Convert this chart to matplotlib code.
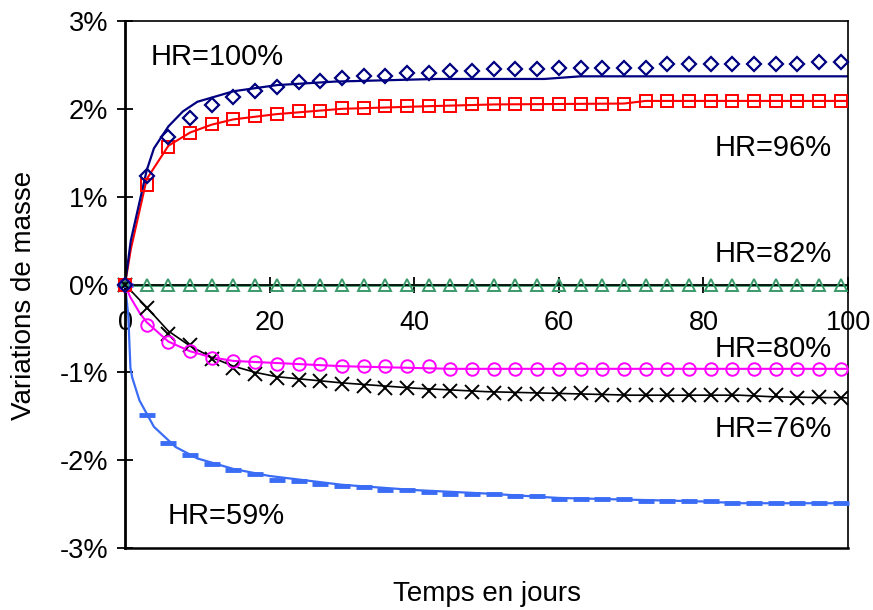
import matplotlib
matplotlib.use("Agg")
import matplotlib.pyplot as plt
from matplotlib.ticker import FuncFormatter

plt.rcParams["font.family"] = ["Liberation Sans", "DejaVu Sans"]

# measured points, every 3 days
days = [0, 3, 6, 9, 12, 15, 18, 21, 24, 27, 30, 33, 36, 39, 42, 45, 48, 51,
        54, 57, 60, 63, 66, 69, 72, 75, 78, 81, 84, 87, 90, 93, 96, 99]

hr100 = [0, 1.24, 1.68, 1.90, 2.04, 2.13, 2.20, 2.25, 2.30, 2.32, 2.35, 2.37,
         2.37, 2.41, 2.41, 2.43, 2.43, 2.45,
         2.45, 2.45, 2.47, 2.47, 2.47, 2.46, 2.46, 2.51, 2.51, 2.51, 2.51, 2.51,
         2.51, 2.51, 2.53, 2.53]
hr96 = [0, 1.13, 1.56, 1.73, 1.83, 1.88, 1.92, 1.94, 1.97, 1.98, 2.01, 2.01,
        2.03, 2.03, 2.03, 2.03, 2.05, 2.05,
        2.06, 2.06, 2.06, 2.06, 2.06, 2.06, 2.09, 2.09, 2.09, 2.09, 2.09, 2.09,
        2.09, 2.09, 2.09, 2.09]
hr82 = [0] * 34
hr80 = [0, -0.46, -0.66, -0.76, -0.84, -0.87, -0.88, -0.90, -0.91, -0.91, -0.93,
        -0.93, -0.93, -0.93, -0.93, -0.96, -0.96, -0.96,
        -0.96, -0.96, -0.96, -0.96, -0.96, -0.96, -0.96, -0.96, -0.96, -0.96,
        -0.96, -0.96, -0.96, -0.96, -0.96, -0.96]
hr76 = [0, -0.27, -0.56, -0.69, -0.85, -0.95, -1.02, -1.07, -1.09, -1.10, -1.13,
        -1.15, -1.18, -1.18, -1.21, -1.21, -1.22, -1.23,
        -1.25, -1.25, -1.25, -1.24, -1.26, -1.26, -1.26, -1.26, -1.26, -1.26,
        -1.26, -1.26, -1.26, -1.29, -1.28, -1.29]
hr59 = [0, -1.49, -1.80, -1.94, -2.04, -2.11, -2.16, -2.22, -2.24, -2.27, -2.29,
        -2.31, -2.34, -2.34, -2.36, -2.38, -2.38, -2.38,
        -2.41, -2.41, -2.44, -2.44, -2.44, -2.44, -2.47, -2.47, -2.47, -2.47,
        -2.49, -2.49, -2.49, -2.49, -2.49, -2.49]

# model curves
m100_t = [0, 0.8, 3, 4, 6, 8, 10, 15, 21, 29, 43, 58, 63, 100]
m100_v = [0, 0.5, 1.3, 1.55, 1.80, 1.97, 2.08, 2.20, 2.27, 2.31, 2.34, 2.34, 2.37, 2.37]
m96_t = [0, 0.8, 3, 6, 9, 12, 15, 21, 30, 42, 51, 69, 72, 100]
m96_v = [0, 0.4, 1.2, 1.58, 1.73, 1.82, 1.88, 1.94, 2.0, 2.03, 2.05, 2.06, 2.09, 2.09]
m82_t = [0, 100]
m82_v = [0, 0]
m80_t = [0, 0.7, 2, 3, 6, 9, 12, 15, 20, 30, 45, 100]
m80_v = [0, -0.14, -0.32, -0.43, -0.65, -0.76, -0.83, -0.87, -0.89, -0.93, -0.96, -0.96]
m76_t = [0, 3, 6, 9, 12, 15, 18, 21, 30, 40, 50, 60, 70, 85, 90, 100]
m76_v = [0, -0.26, -0.53, -0.70, -0.83, -0.93, -1.00, -1.05, -1.12, -1.18, -1.22,
         -1.24, -1.26, -1.26, -1.28, -1.29]
m59_t = [0, 0.45, 0.75, 1, 2, 4, 7, 10, 15, 20, 30, 40, 50, 60, 70, 80, 85, 100]
m59_v = [0, -0.35, -0.95, -1.06, -1.32, -1.62, -1.85, -1.98, -2.10, -2.18, -2.28,
         -2.34, -2.38, -2.43, -2.45, -2.47, -2.49, -2.49]

labels = ["HR=100%", "HR=96%", "HR=82%", "HR=80%", "HR=76%", "HR=59%"]
label_pos = [(3.5, 2.585), (81.6, 1.55), (81.6, 0.35), (81.6, -0.73),
             (81.6, -1.64), (5.9, -2.63)]

fig = plt.figure(figsize=(8.73, 6.10), dpi=100)
ax = fig.add_axes([0.1432, 0.1016, 0.8282, 0.864])

navy = "#000080"
red = "#ff0000"
green = "#3a9a6a"
pink = "#ff00ff"
blue = "#3b6cf5"

# models
ax.plot(m82_t, m82_v, color=green, lw=2.0, zorder=2)
ax.plot(m59_t, m59_v, color=blue, lw=1.6, zorder=2)
ax.plot(m76_t, m76_v, color="black", lw=1.2, zorder=2)
ax.plot(m80_t, m80_v, color=pink, lw=1.5, zorder=2)
ax.plot(m96_t, m96_v, color=red, lw=1.5, zorder=2)
ax.plot(m100_t, m100_v, color=navy, lw=1.6, zorder=2)

# measurements
mk = dict(ls="none", clip_on=False, zorder=3)
ax.plot(days, hr59, marker="_", ms=11, mew=3.5, color=blue, **mk)
ax.plot(days, hr82, marker="^", ms=9, mew=1.4, mfc="none", mec=green, **mk)
ax.plot(days, hr76, marker="x", ms=10.5, mew=1.4, color="black", **mk)
ax.plot(days, hr80, marker="o", ms=9, mew=1.4, mfc="none", mec=pink, **mk)
ax.plot(days, hr96, marker="s", ms=8.5, mew=1.4, mfc="none", mec=red, **mk)
ax.plot(days, hr100, marker="D", ms=7.5, mew=1.6, mfc="none", mec=navy, **mk)

for txt, (x, y) in zip(labels, label_pos):
    ax.text(x, y, txt, fontsize=21, ha="left", va="center")

ax.set_xlim(0, 100)
ax.set_ylim(-3, 3)
ax.set_xticks([0, 20, 40, 60, 80, 100])
ax.set_yticks([-3, -2, -1, 0, 1, 2, 3])
ax.yaxis.set_major_formatter(FuncFormatter(lambda v, p: f"{v:.0f}%"))

ax.spines["bottom"].set_position(("data", 0))
ax.spines["bottom"].set_linewidth(1.2)
ax.spines["left"].set_linewidth(2.0)
ax.spines["top"].set_linewidth(1.2)
ax.spines["right"].set_linewidth(1.2)
ax.axhline(-3, color="black", lw=1.8, clip_on=False, zorder=4)

ax.tick_params(axis="both", direction="inout", length=12, width=1.3,
               labelsize=19.5)
ax.tick_params(axis="y", pad=6)
ax.tick_params(axis="x", pad=12)

ax.set_xlabel("Temps en jours", fontsize=20)
ax.set_ylabel("Variations de masse", fontsize=20)
ax.xaxis.set_label_coords(0.5, -0.062)
ax.yaxis.set_label_coords(-0.122, 0.48)

fig.savefig("out.png", dpi=100)
